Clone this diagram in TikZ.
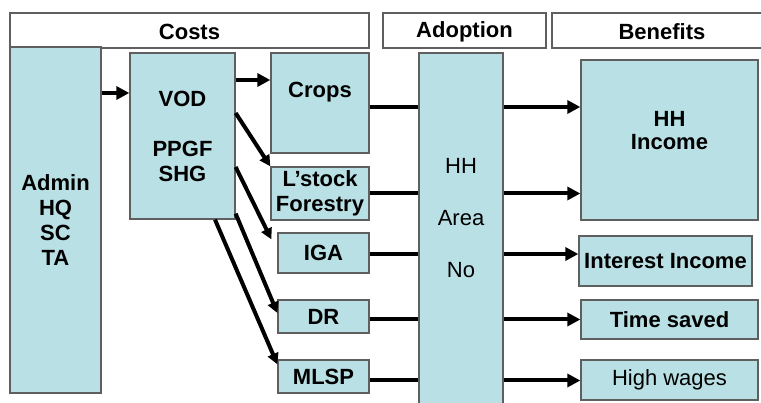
\documentclass[tikz,border=0pt]{standalone}
\usepackage{fontspec}
\setmainfont{Liberation Sans}
\usetikzlibrary{arrows.meta}
\definecolor{boxfill}{RGB}{185,224,228}
\definecolor{boxline}{RGB}{95,95,95}
\begin{document}
\begin{tikzpicture}[x=1pt,y=-1pt,
  every node/.style={font=\fontsize{22}{25}\selectfont, inner sep=0pt, align=center},
  header/.style={draw=boxline, line width=1.2pt, fill=white},
  headtext/.style={font=\fontsize{22}{25}\selectfont\bfseries},
  box/.style={draw=boxline, line width=1.3pt, fill=boxfill, font=\fontsize{22}{25}\selectfont\bfseries},
  plainbox/.style={draw=boxline, line width=1.3pt, fill=boxfill},
  label/.style={font=\fontsize{22}{25}\selectfont\bfseries},
  link/.style={line width=4pt},
  arr/.style={line width=4pt, -{Triangle[length=13pt,width=13pt]}},
  darr/.style={line width=4pt, -{Triangle[length=11pt,width=11pt]}}]
\fill[white] (0,0) rectangle (761,403);
\useasboundingbox (0,0) rectangle (761,403);

% column headers
\node[header, minimum width=359pt, minimum height=35pt] (costs) at (189.5,30.5) {};
\node[headtext] (coststext) at (189.5,32) {Costs};
\node[header, minimum width=163pt, minimum height=35pt] (adopthdr) at (464.5,30.5) {};
\node[headtext] (adopthdrtext) at (464.5,32) {Adoption};
\node[header, minimum width=220pt, minimum height=35pt] (benefits) at (662,30.5) {};
\node[headtext] (benefitstext) at (662,32) {Benefits};

% cost side
\node[box, minimum width=91pt, minimum height=346pt] (admin) at (55.5,220) {Admin\\HQ\\SC\\TA};
\node[box, minimum width=105pt, minimum height=166pt] (vod) at (182.5,136) {VOD\\[25pt]PPGF\\SHG};
\node[plainbox, minimum width=98pt, minimum height=100pt] (crops) at (320,103) {};
\node[label] (cropstext) at (320,92) {Crops};
\node[box, minimum width=98pt, minimum height=53pt] (lstock) at (320,193.5) {L’stock\\Forestry};
\node[box, minimum width=91pt, minimum height=40pt] (iga) at (323.5,253) {IGA};
\node[box, minimum width=91pt, minimum height=33pt] (dr) at (323.5,316.5) {DR};
\node[box, minimum width=91pt, minimum height=33pt] (mlsp) at (323.5,376.5) {MLSP};

% adoption column
\node[plainbox, minimum width=84pt, minimum height=357pt] (adopt) at (461,231.5) {};
\node[font=\fontsize{22}{52}\selectfont] (adopttext) at (461,218) {HH\\Area\\No};

% benefits side
\node[plainbox, minimum width=177pt, minimum height=160pt] (hhinc) at (669.5,140) {};
\node[label] (hhinctext) at (669.5,131) {HH\\[-2pt]Income};
\node[box, minimum width=173pt, minimum height=50pt] (intinc) at (665.5,261) {Interest Income};
\node[box, minimum width=177pt, minimum height=39pt] (time) at (669.5,319.5) {Time saved};
\node[plainbox, minimum width=177pt, minimum height=40pt] (wages) at (669.5,380) {High wages};

% admin to VOD, VOD to crops
\coordinate (a1) at ([yshift=43pt]vod.west);
\draw[arr] (a1 -| admin.east) -- (a1);
\coordinate (c1) at ([yshift=56pt]vod.east);
\draw[arr] (c1) -- (c1 -| crops.west);

% VOD fan-out
\draw[darr] ([yshift=23pt]vod.east) -- (lstock.north west);
\draw[darr] ([yshift=-31pt]vod.east) -- ([shift={(-6,7)}]iga.north west);
\draw[darr] ([yshift=6pt]vod.south east) -- ([yshift=3.5pt]dr.west);
\draw[darr] ([xshift=32.5pt]vod.south) -- ([yshift=-5pt]mlsp.north west);

% through adoption to benefits
\coordinate (r1) at ([yshift=-4pt]crops.east);
\draw[link] (r1) -- (r1 -| adopt.west);
\draw[arr] (r1 -| adopt.east) -- (r1 -| hhinc.west);
\coordinate (r2) at (lstock.east);
\draw[link] (r2) -- (r2 -| adopt.west);
\draw[arr] (r2 -| adopt.east) -- (r2 -| hhinc.west);
\coordinate (r3) at ([yshift=-1pt]iga.east);
\draw[link] (r3) -- (r3 -| adopt.west);
\draw[arr] (r3 -| adopt.east) -- (r3 -| intinc.west);
\coordinate (r4) at ([yshift=-3pt]dr.east);
\draw[link] (r4) -- (r4 -| adopt.west);
\draw[arr] (r4 -| adopt.east) -- (r4 -| time.west);
\coordinate (r5) at ([yshift=-4pt]mlsp.east);
\draw[link] (r5) -- (r5 -| adopt.west);
\draw[arr] (r5 -| adopt.east) -- (r5 -| wages.west);
\end{tikzpicture}
\end{document}
